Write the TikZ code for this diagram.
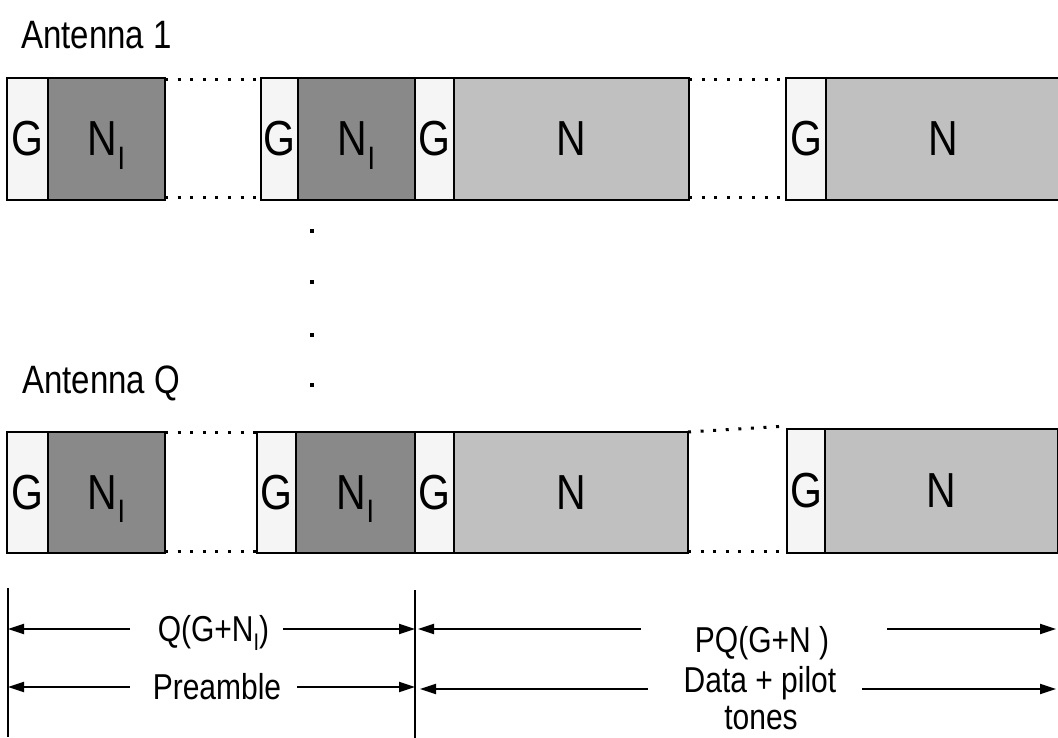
\documentclass[tikz,border=0pt]{standalone}
\usepackage{fontspec}
\usepackage{graphicx}
\setmainfont{Liberation Sans}
\usetikzlibrary{arrows.meta}
\definecolor{gfill}{RGB}{245,245,245}
\definecolor{ifill}{RGB}{137,137,137}
\definecolor{nfill}{RGB}{192,192,192}
\newcommand\boxfnt{\fontsize{41}{41}\selectfont}
\newcommand\lblfnt{\fontsize{30}{34}\selectfont}
\newcommand\antfnt{\fontsize{33}{33}\selectfont}
\newcommand\tall[1]{\scalebox{1}[1.2]{#1}}
\newcommand\NIsub{\tall{N\raisebox{-11pt}[0pt][0pt]{\fontsize{27}{27}\selectfont I}}}
\newcommand\NIsmall{N\raisebox{-8pt}[0pt][0pt]{\fontsize{20}{20}\selectfont I}}
\tikzset{
  seg/.style={draw=black, line width=1.8pt, inner sep=0pt, outer sep=0pt, anchor=north west, font=\boxfnt},
  gseg/.style={seg, fill=gfill},
  iseg/.style={seg, fill=ifill},
  nseg/.style={seg, fill=nfill},
  dotline/.style={line width=3pt, dash pattern=on 3pt off 9.6pt},
  vline/.style={line width=1.8pt},
  arr/.style={line width=1.8pt, -{Triangle[length=16pt,width=10pt]}},
  lbl/.style={inner sep=0pt, anchor=base, font=\lblfnt},
  ant/.style={inner sep=0pt, anchor=base west, font=\antfnt},
  vdot/.style={fill=black, inner sep=0pt, minimum size=4pt, rectangle}
}
\begin{document}
\begin{tikzpicture}[x=1pt,y=-1pt]
\useasboundingbox (0,0) rectangle (1058,738);

% titles
\node[ant] (ant1) at (21,49) {\tall{Antenna 1}};
\node[ant] (antq) at (22,393) {\tall{Antenna Q}};

% ---------- Antenna 1 row ----------
\node[gseg, minimum width=41pt, minimum height=122pt] (a1g1) at (7,78) {\tall{G}};
\node[iseg, minimum width=117pt, minimum height=122pt] (a1i1) at (48,78) {\NIsub};
\node[gseg, minimum width=37pt, minimum height=122pt] (a1g2) at (261,78) {\tall{G}};
\node[iseg, minimum width=117pt, minimum height=122pt] (a1i2) at (298,78) {\NIsub};
\node[gseg, minimum width=39pt, minimum height=122pt] (a1g3) at (415,78) {\tall{G}};
\node[nseg, minimum width=235pt, minimum height=122pt] (a1n1) at (454,78) {\tall{N}};
\node[gseg, minimum width=40pt, minimum height=122pt] (a1g4) at (786,78) {\tall{G}};
\node[nseg, minimum width=234pt, minimum height=122pt] (a1n2) at (826,78) {\tall{N}};

\draw[dotline] ([yshift=-2pt]a1i1.north east) -- ([yshift=-2pt]a1g2.north west);
\draw[dotline] ([yshift=2pt]a1i1.south east) -- ([yshift=2pt]a1g2.south west);
\draw[dotline] ([yshift=-2pt]a1n1.north east) -- ([yshift=-2pt]a1g4.north west);
\draw[dotline] ([yshift=2pt]a1n1.south east) -- ([yshift=2pt]a1g4.south west);

% vertical dots
\node[vdot] (d1) at (312,231) {};
\node[vdot] (d2) at (312,282) {};
\node[vdot] (d3) at (312,335) {};
\node[vdot] (d4) at (312,385) {};

% ---------- Antenna Q row ----------
\node[gseg, minimum width=41pt, minimum height=121pt] (aqg1) at (7,432) {\tall{G}};
\node[iseg, minimum width=117pt, minimum height=121pt] (aqi1) at (48,432) {\NIsub};
\node[gseg, minimum width=39pt, minimum height=121pt] (aqg2) at (257,432) {\tall{G}};
\node[iseg, minimum width=119pt, minimum height=121pt] (aqi2) at (296,432) {\NIsub};
\node[gseg, minimum width=39pt, minimum height=121pt] (aqg3) at (415,432) {\tall{G}};
\node[nseg, minimum width=234pt, minimum height=121pt] (aqn1) at (454,432) {\tall{N}};
\node[gseg, minimum width=38pt, minimum height=124pt] (aqg4) at (787,429) {\tall{G}};
\node[nseg, minimum width=233pt, minimum height=124pt] (aqn2) at (825,429) {\tall{N}};

\draw[dotline] (aqi1.north east) -- (aqg2.north west);
\draw[dotline] ([yshift=2pt]aqi1.south east) -- ([yshift=2pt]aqg2.south west);
\draw[dotline] (aqn1.north east) -- ([yshift=3pt]aqg4.north west);
\draw[dotline] ([yshift=2pt]aqn1.south east) -- ([yshift=2pt]aqg4.south west);

% ---------- dimension lines ----------
\coordinate (vLt) at (8,588);
\coordinate (vLb) at (8,737);
\coordinate (vMt) at (415,590);
\coordinate (vMb) at (415,738);
\coordinate (vR) at (1057,628);
\draw[vline] (vLt) -- (vLb);
\draw[vline] (vMt) -- (vMb);

\node[lbl] (lq) at (213.5,641) {\tall{Q(G+\NIsmall)}};
\node[lbl] (lpre) at (217,699) {\tall{Preamble}};
\node[lbl] (lpq) at (762,652) {\tall{PQ(G+N )}};
\node[lbl] (ldata) at (760,692) {\tall{Data + pilot}};
\node[lbl] (ltones) at (761,729) {\tall{tones}};

\coordinate (a1l) at (130,629);
\coordinate (a1r) at (283,629);
\coordinate (a2l) at (130,687);
\coordinate (a2r) at (297,687);
\coordinate (b1l) at (641,629);
\coordinate (b1r) at (887,629);
\coordinate (b2l) at (648,689);
\coordinate (b2r) at (862,689);

\draw[arr] (a1l) -- (a1l -| vLt);
\draw[arr] (a1r) -- (a1r -| vMt);
\draw[arr] (a2l) -- (a2l -| vLt);
\draw[arr] (a2r) -- (a2r -| vMt);
\draw[arr, shorten >=3pt] (b1l) -- (b1l -| vMt);
\draw[arr, shorten >=1pt] (b1r) -- (b1r -| vR);
\draw[arr, shorten >=5pt] (b2l) -- (b2l -| vMt);
\draw[arr, shorten >=1pt] (b2r) -- (b2r -| vR);
\end{tikzpicture}
\end{document}
